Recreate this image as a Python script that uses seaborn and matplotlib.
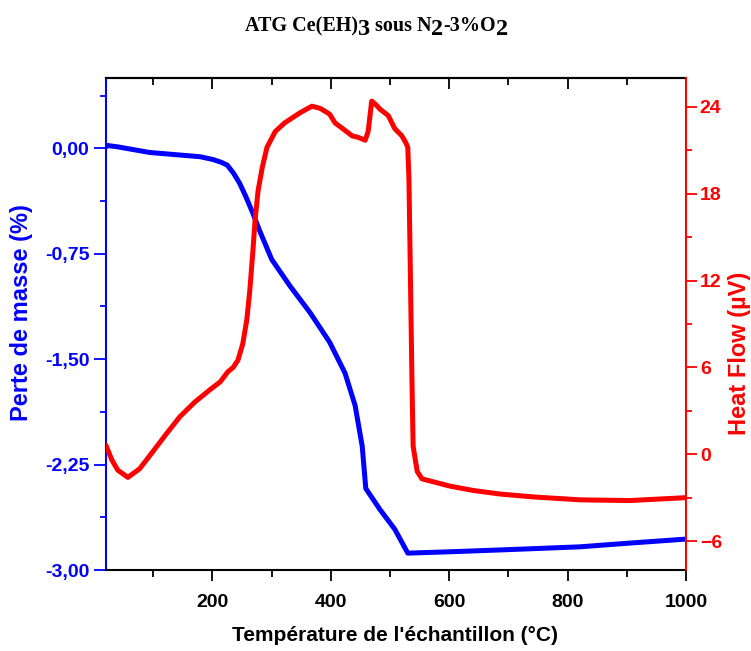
import matplotlib
matplotlib.use("Agg")
import matplotlib.pyplot as plt
import numpy as np
import seaborn as sns
from matplotlib.ticker import MultipleLocator, FuncFormatter

# TGA curve: temperature (°C) vs mass change (%)
temp_mass = [20, 22, 40, 94, 179, 201, 215, 225, 236, 246, 257, 268, 280, 292,
             300, 331, 365, 398, 424, 441, 453, 459, 483, 508, 530, 603, 700, 821,
             900, 1000]
mass = [0.01, 0.02, 0.01, -0.03, -0.06, -0.08, -0.10, -0.12, -0.18, -0.25, -0.35,
        -0.46, -0.59, -0.71, -0.79, -0.98, -1.17, -1.38, -1.60, -1.83, -2.12,
        -2.42, -2.57, -2.71, -2.88, -2.87, -2.855, -2.835, -2.81, -2.78]

# DTA curve: temperature (°C) vs heat flow (µV)
temp_hf = [20, 30, 40, 57, 77, 94, 120, 145, 170, 197, 213, 226, 235, 243, 251,
           258, 263, 268, 272, 277, 284, 292, 306, 322, 348, 368, 382, 398, 407,
           420, 436, 446, 458, 463, 469, 475, 483, 497, 508, 520, 527, 530, 532,
           537, 539, 546, 554, 601, 640, 686, 742, 821, 905, 1000]
heat_flow = [0.62, -0.4, -1.1, -1.6, -1.0, -0.1, 1.3, 2.6, 3.6, 4.5, 5.0, 5.7,
             6.0, 6.5, 7.6, 9.3, 11.3, 13.9, 16.2, 18.2, 19.8, 21.2, 22.3, 22.9,
             23.6, 24.05, 23.9, 23.5, 22.9, 22.5, 22.0, 21.9, 21.7, 22.3, 24.4,
             24.2, 23.85, 23.4, 22.5, 22.0, 21.5, 21.2, 18.9, 5.2, 0.55, -1.2,
             -1.7, -2.2, -2.5, -2.75, -2.95, -3.15, -3.2, -3.0]

sns.set_style("ticks")
plt.rcParams["font.family"] = ["Liberation Sans", "DejaVu Sans"]
plt.rcParams["font.weight"] = "bold"
plt.rcParams["text.color"] = "black"

fig = plt.figure(figsize=(7.51, 6.51), dpi=100)
ax = fig.add_axes([0.1411, 0.1244, 0.7723, 0.7558])
ax2 = ax.twinx()

sns.lineplot(x=temp_mass, y=mass, ax=ax, color="#0000ff", lw=3.6)
sns.lineplot(x=temp_hf, y=heat_flow, ax=ax2, color="#ff0000", lw=3.6)

ax.set_xlim(20, 1000)
ax.set_ylim(-3.0, 0.5)
ax2.set_ylim(-8, 26)

ax.xaxis.set_major_locator(MultipleLocator(200))
ax.xaxis.set_minor_locator(MultipleLocator(100))
ax.yaxis.set_major_locator(MultipleLocator(0.75))
ax.yaxis.set_minor_locator(MultipleLocator(0.375))
ax2.yaxis.set_major_locator(MultipleLocator(6))
ax2.yaxis.set_minor_locator(MultipleLocator(3))
ax.yaxis.set_major_formatter(FuncFormatter(lambda v, p: f"{v:.2f}".replace(".", ",")))

# spines
for s in ["top", "bottom"]:
    ax.spines[s].set_color("black")
    ax.spines[s].set_linewidth(1.5)
ax.spines["left"].set_color("#0000ff")
ax.spines["left"].set_linewidth(1.5)
ax.spines["right"].set_visible(False)
for s in ["left", "top", "bottom"]:
    ax2.spines[s].set_visible(False)
ax2.spines["right"].set_visible(True)
ax2.spines["right"].set_color("#ff0000")
ax2.spines["right"].set_linewidth(1.5)

ax.tick_params(axis="x", which="major", direction="out", length=8, width=1.3,
               labelsize=14, pad=9, colors="black")
ax.tick_params(axis="x", which="minor", direction="out", length=5, width=1.3,
               colors="black")
ax.tick_params(axis="y", which="major", direction="out", length=9, width=1.3,
               labelsize=14, pad=3, colors="#0000ff")
ax.tick_params(axis="y", which="minor", direction="out", length=4, width=1.3,
               colors="#0000ff")
ax2.tick_params(axis="y", which="major", direction="out", length=8, width=1.3,
                labelsize=14, pad=2, colors="#ff0000")
ax2.tick_params(axis="y", which="minor", direction="out", length=4, width=1.3,
                colors="#ff0000")
for lab in ax.get_xticklabels() + ax.get_yticklabels() + ax2.get_yticklabels():
    lab.set_fontweight("bold")

# inward ticks along the top spine
top = ax.secondary_xaxis("top")
top.xaxis.set_major_locator(MultipleLocator(200))
top.xaxis.set_minor_locator(MultipleLocator(100))
top.tick_params(axis="x", which="major", direction="in", length=8, width=1.3,
                labeltop=False, colors="black")
top.tick_params(axis="x", which="minor", direction="in", length=5, width=1.3,
                colors="black")
top.spines["top"].set_linewidth(1.5)
top.spines["top"].set_color("black")

# axis labels
ax.set_xlabel("Température de l'échantillon (°C)", fontsize=15, fontweight="bold",
              color="black", va="center")
ax.xaxis.set_label_coords(0.499, -0.134)
ax.set_ylabel("Perte de masse (%)", fontsize=17, fontweight="bold", color="#0000ff",
              va="center")
ax.yaxis.set_label_coords(-0.145, 0.524)
ax2.set_ylabel("Heat Flow (µV)", fontsize=17, fontweight="bold", color="#ff0000",
               va="center")
ax2.yaxis.set_label_coords(1.093, 0.44)

# title with enlarged, lowered subscripts
W, H = 751, 651
pieces = [("ATG Ce(EH)", 14.5, 0), ("3", 17.5, 4), (" sous N", 14.5, 0),
          ("2", 17.5, 4), ("-3%O", 14.5, 0), ("2", 17.5, 4)]
renderer = fig.canvas.get_renderer()
texts = []
x = 0.0
for s, size, drop in pieces:
    t = fig.text(0, 0, s, fontsize=size, fontweight="bold", color="black",
                 family=["Liberation Serif", "DejaVu Serif"], va="baseline", ha="left")
    w = t.get_window_extent(renderer).width
    texts.append((t, x, drop))
    x += w
start = 376.5 - x / 2
for t, off, drop in texts:
    t.set_position(((start + off) / W, 1 - (31 + drop) / H))

fig.savefig("out.png", dpi=100)
